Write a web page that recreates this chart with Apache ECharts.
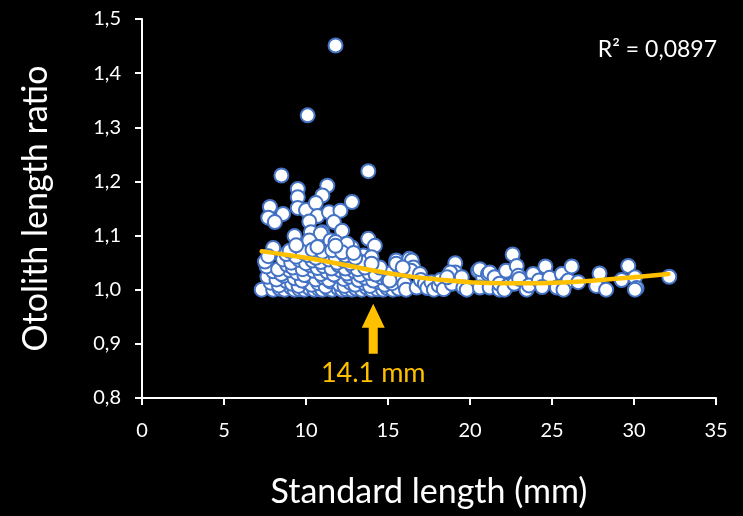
<!DOCTYPE html>
<html>
<head>
<meta charset="utf-8">
<script src="https://cdn.jsdelivr.net/npm/echarts@6/dist/echarts.min.js"></script>
<style>
  html, body { margin: 0; padding: 0; background: #000; }
  #chart { width: 743px; height: 516px; }
</style>
</head>
<body>
<div id="chart"></div>
<script>
  'use strict';

  // standard length (mm), otolith length ratio
  var outliers = [
    [11.8, 1.451], [10.1, 1.322], [13.8, 1.219], [8.5, 1.211]
  ];

  var upperCloud = [
    [9.5, 1.186], [11.3, 1.192], [9.5, 1.171], [11.0, 1.174], [7.8, 1.153],
    [8.6, 1.140], [7.7, 1.133], [8.1, 1.125], [9.5, 1.151], [10.0, 1.147],
    [10.6, 1.160], [10.7, 1.136], [11.4, 1.143], [12.1, 1.146], [12.8, 1.162],
    [10.2, 1.126], [11.7, 1.125], [12.2, 1.109], [9.3, 1.099], [10.3, 1.106],
    [11.0, 1.106], [10.9, 1.104], [10.2, 1.091], [11.5, 1.091], [11.8, 1.088],
    [13.8, 1.094], [14.2, 1.081], [8.0, 1.077], [9.4, 1.075], [12.8, 1.078],
    [13.5, 1.063], [14.0, 1.060], [12.5, 1.085]
  ];

  var band = [
    [7.3, 1.0], [8.0, 1.0], [8.4, 1.002], [8.7, 1.0], [9.1, 1.004], [9.3, 1.0],
    [9.6, 1.001], [9.9, 1.0], [10.2, 1.003], [10.5, 1.0], [10.8, 1.001], [11.0, 1.0],
    [11.35, 1.002], [11.6, 1.0], [11.95, 1.003], [12.2, 1.0], [12.45, 1.001], [12.8, 1.0],
    [13.05, 1.002], [13.4, 1.0], [13.7, 1.004], [14.0, 1.0], [14.35, 1.001], [14.7, 1.0],
    [14.95, 1.003], [15.3, 1.0], [15.65, 1.002],
    [7.85, 1.013], [8.35, 1.008], [8.8, 1.016], [9.15, 1.011], [9.55, 1.007], [10.05, 1.014],
    [10.35, 1.009], [10.75, 1.012], [11.2, 1.006], [11.5, 1.015], [12.05, 1.01], [12.35, 1.007],
    [12.7, 1.013], [13.0, 1.009], [13.55, 1.012], [13.9, 1.007], [14.4, 1.014], [14.8, 1.009],
    [15.25, 1.012],
    [7.65, 1.024], [8.2, 1.019], [8.65, 1.026], [9.3, 1.021], [9.75, 1.017], [10.2, 1.025],
    [10.6, 1.019], [11.05, 1.023], [11.4, 1.018], [11.85, 1.026], [12.3, 1.02], [12.65, 1.024],
    [13.2, 1.018], [13.6, 1.022], [14.1, 1.017], [14.6, 1.023], [15.0, 1.019], [15.8, 1.021],
    [8.0, 1.034], [8.5, 1.029], [9.0, 1.036], [9.45, 1.031], [9.9, 1.027], [10.45, 1.035],
    [10.9, 1.029], [11.3, 1.033], [11.7, 1.028], [12.1, 1.036], [12.5, 1.03], [12.95, 1.034],
    [13.3, 1.027], [13.85, 1.031], [14.25, 1.028], [15.1, 1.03],
    [7.6, 1.043], [8.3, 1.038], [8.85, 1.046], [9.2, 1.041], [9.8, 1.038], [10.25, 1.045],
    [10.7, 1.04], [11.05, 1.044], [11.55, 1.039], [12.0, 1.045], [12.4, 1.039], [12.85, 1.043],
    [13.15, 1.038], [13.6, 1.041], [14.5, 1.041], [15.7, 1.041],
    [7.5, 1.052], [8.6, 1.056], [9.1, 1.05], [9.6, 1.055], [10.0, 1.049], [10.4, 1.054],
    [10.9, 1.051], [11.4, 1.056], [11.9, 1.05], [12.3, 1.054], [12.7, 1.049], [13.3, 1.052],
    [14.0, 1.048], [15.5, 1.054],
    [7.7, 1.062], [8.8, 1.066], [9.4, 1.061], [10.1, 1.064], [10.6, 1.059], [11.2, 1.065],
    [11.8, 1.061], [12.4, 1.063], [13.0, 1.059], [16.3, 1.057],
    [9.0, 1.072], [9.8, 1.069], [10.4, 1.074], [11.0, 1.07], [11.6, 1.073], [12.2, 1.069],
    [12.9, 1.068], [9.4, 1.082], [10.7, 1.079], [11.8, 1.081]
  ];

  var tail = [
    [15.5, 1.048], [16.45, 1.054], [16.55, 1.041], [16.4, 1.035], [16.95, 1.029],
    [15.1, 1.017], [15.9, 1.041], [16.0, 1.011], [16.1, 1.0], [16.75, 1.004],
    [17.0, 1.018], [17.25, 1.011], [17.4, 1.003], [17.65, 1.014], [17.8, 1.0],
    [18.1, 1.008], [18.2, 1.018], [18.4, 1.001], [18.9, 1.011], [19.1, 1.049],
    [19.1, 1.032], [18.8, 1.032], [18.6, 1.023], [19.5, 1.023], [19.6, 1.004],
    [19.8, 1.0], [20.5, 1.035], [20.8, 1.023], [20.6, 1.004], [20.6, 1.038],
    [21.1, 1.029], [21.2, 1.004], [21.2, 1.032], [21.5, 1.023], [21.8, 1.0],
    [21.8, 1.011], [22.2, 1.035], [22.3, 1.007], [22.6, 1.065], [22.85, 1.044],
    [22.95, 1.026], [22.1, 1.0], [22.7, 1.011], [23.0, 1.02], [23.45, 1.0],
    [23.85, 1.029], [23.6, 1.008], [24.2, 1.017], [24.6, 1.043], [24.85, 1.022],
    [24.4, 1.005], [25.3, 1.004], [25.6, 1.029], [25.85, 1.012], [26.0, 1.017],
    [26.2, 1.043], [25.7, 1.0], [26.6, 1.014], [27.9, 1.03], [27.7, 1.007],
    [28.3, 1.0], [29.25, 1.018], [29.65, 1.044], [30.06, 1.023], [30.16, 1.003],
    [30.06, 1.0], [32.15, 1.024]
  ];

  // polynomial trend line
  var trendX = [7.3, 8, 10, 12, 14, 16, 18, 20, 22, 24, 26, 28, 30, 32.1];
  var trendY = [1.071, 1.068, 1.059, 1.048, 1.036, 1.026, 1.019, 1.014, 1.012, 1.012, 1.014, 1.018, 1.023, 1.029];

  var arrowAt = 14.1;
  var rSquared = 'R\u00b2 = 0,0897';

  var xTicks = [0, 35, 5];
  var yTicks = [0.8, 1.5, 0.1];

  var fontFamily = 'Lato, "Open Sans", sans-serif';
  var orange = '#FFC000';

  var chart = echarts.init(document.getElementById('chart'));

  var points = outliers.concat(upperCloud, band, tail);
  var trend = trendX.map(function (x, i) { return [x, trendY[i]]; });

  var axisCommon = {
    axisLine: { show: true, lineStyle: { color: '#fff', width: 2 } },
    axisTick: { show: true, inside: false, length: 7, lineStyle: { color: '#fff', width: 2 } },
    splitLine: { show: false },
    nameLocation: 'middle',
    nameTextStyle: { color: '#fff', fontSize: 34, fontFamily: fontFamily }
  };

  chart.setOption({
    backgroundColor: '#000',
    animation: false,
    grid: { left: 142, right: 27, top: 19, bottom: 118 },
    xAxis: Object.assign({}, axisCommon, {
      type: 'value',
      min: xTicks[0],
      max: xTicks[1],
      interval: xTicks[2],
      name: 'Standard length (mm)',
      nameGap: 77,
      axisLabel: { color: '#fff', fontSize: 20, fontFamily: fontFamily, margin: 23 }
    }),
    yAxis: Object.assign({}, axisCommon, {
      type: 'value',
      min: yTicks[0],
      max: yTicks[1],
      interval: yTicks[2],
      name: 'Otolith length ratio',
      nameGap: 89,
      axisLabel: {
        color: '#fff', fontSize: 20, fontFamily: fontFamily, margin: 21,
        formatter: function (v) { return v.toFixed(1).replace('.', ','); }
      }
    }),
    graphic: [{
      type: 'text',
      right: 26,
      top: 38,
      style: { text: rSquared, fill: '#fff', fontSize: 23, fontFamily: fontFamily }
    }],
    series: [
      {
        type: 'scatter',
        data: points,
        symbol: 'circle',
        symbolSize: 14,
        itemStyle: { color: '#fff', borderColor: '#4472C4', borderWidth: 2, opacity: 1 },
        z: 2
      },
      {
        type: 'line',
        data: trend,
        smooth: true,
        showSymbol: false,
        lineStyle: { color: orange, width: 4.5, cap: 'round' },
        z: 3,
        markPoint: {
          silent: true,
          data: [
            {
              coord: [arrowAt, 0.928],
              symbol: 'path://M11.5,0 L23,24 L16,24 L16,50 L7,50 L7,24 L0,24 Z',
              symbolSize: [23, 50],
              itemStyle: { color: orange },
              label: { show: false }
            },
            {
              coord: [arrowAt, 0.846],
              symbol: 'circle',
              symbolSize: 1,
              itemStyle: { color: 'rgba(0,0,0,0)' },
              label: {
                show: true,
                position: 'inside',
                formatter: arrowAt + ' mm',
                color: orange,
                fontSize: 27,
                fontFamily: fontFamily
              }
            }
          ]
        }
      }
    ]
  });
</script>
</body>
</html>
